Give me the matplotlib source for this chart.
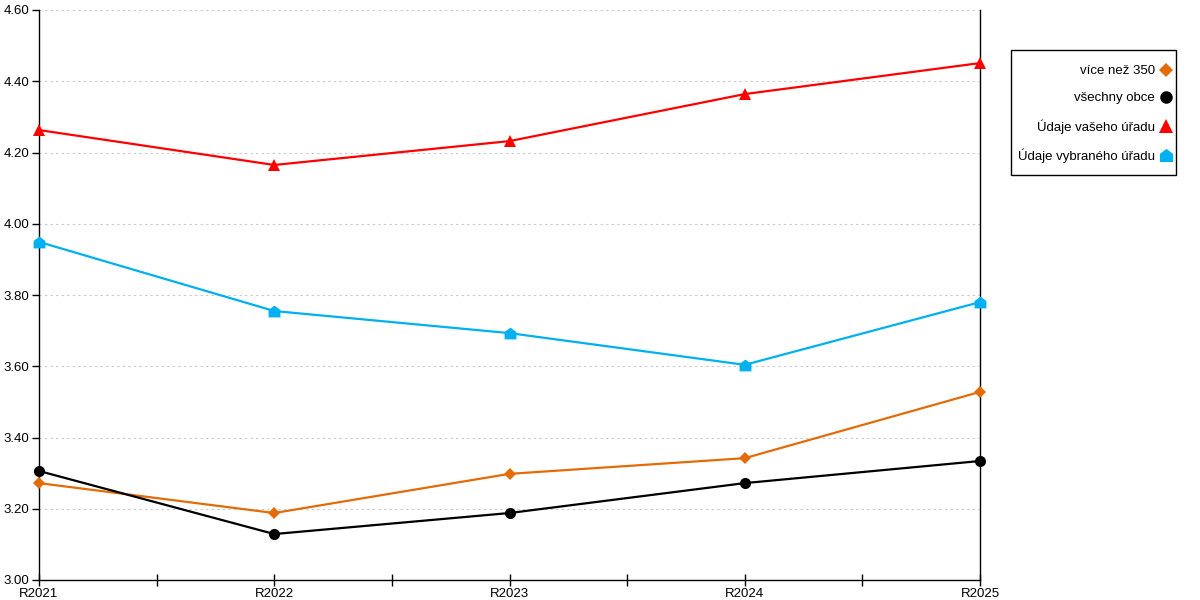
import matplotlib
matplotlib.use("Agg")
import matplotlib.pyplot as plt
from matplotlib.lines import Line2D
from matplotlib.patches import Rectangle
from matplotlib.ticker import MultipleLocator, FixedLocator
import numpy as np

categories = ["R2021", "R2022", "R2023", "R2024", "R2025"]
vice_nez_350 = [3.272, 3.188, 3.298, 3.342, 3.528]
vsechny_obce = [3.306, 3.129, 3.188, 3.272, 3.334]
vaseho_uradu = [4.263, 4.165, 4.232, 4.364, 4.451]
vybraneho_uradu = [3.949, 3.755, 3.693, 3.604, 3.780]

labels = ["více než 350", "všechny obce", "Údaje vašeho úřadu", "Údaje vybraného úřadu"]
colors = ["#E36C09", "#000000", "#FF0000", "#00B0F0"]
house = [(-1, -1), (1, -1), (1, 0.25), (0, 1), (-1, 0.25), (-1, -1)]
markers = ["D", "o", "^", house]
msizes = [6, 8, 9, 8.5]

plt.rcParams['font.family'] = ['Liberation Sans', 'DejaVu Sans']
fig = plt.figure(figsize=(12, 6), dpi=100)
ax = fig.add_axes([39/1200, 20/600, (980-39)/1200, (580-10)/600])

x = np.arange(len(categories))
series = [vice_nez_350, vsechny_obce, vaseho_uradu, vybraneho_uradu]
order = [3, 2, 0, 1]
for i in order:
    ax.plot(x, series[i], color=colors[i], marker=markers[i], markersize=msizes[i],
            linewidth=1.6, markeredgewidth=0, zorder=3 + i, clip_on=False)

ax.set_xlim(0, 4)
ax.set_ylim(3.0, 4.6)
ax.yaxis.set_major_locator(MultipleLocator(0.2))
ax.yaxis.set_major_formatter(matplotlib.ticker.FormatStrFormatter("%.2f"))
ax.set_xticks(x)
ax.set_xticklabels(categories)
ax.xaxis.set_minor_locator(FixedLocator([0.5, 1.5, 2.5, 3.5]))
ax.tick_params(axis='x', which='both', direction='inout', length=8, width=1, labelsize=9.5, pad=2)
ax.tick_params(axis='y', which='major', direction='out', length=5, width=1, labelsize=9.5, pad=2)
ax.grid(axis='y', linestyle=(0, (2, 3)), color='#C8C8C8', linewidth=0.8)
ax.set_axisbelow(True)
ax.spines['top'].set_visible(False)
for s in ['left', 'right', 'bottom']:
    ax.spines[s].set_color('black')
    ax.spines[s].set_linewidth(1)

handles = [Line2D([], [], color=colors[i], marker=markers[i], linestyle='none',
                  markersize=msizes[i] + 1, markeredgewidth=0) for i in range(4)]
leg = fig.legend(handles, labels, loc='upper right', bbox_to_anchor=(1171/1200, 1 - 65/600),
                 markerfirst=False, frameon=False, fontsize=9.5,
                 labelspacing=1.12, handlelength=0.7, handletextpad=0.5,
                 borderpad=0, borderaxespad=0)
fig.patches.append(Rectangle((1011/1200, 1 - 175/600), 165/1200, 125/600,
                             transform=fig.transFigure, fill=False,
                             edgecolor='black', linewidth=1))

fig.savefig("out.png", dpi=100)
